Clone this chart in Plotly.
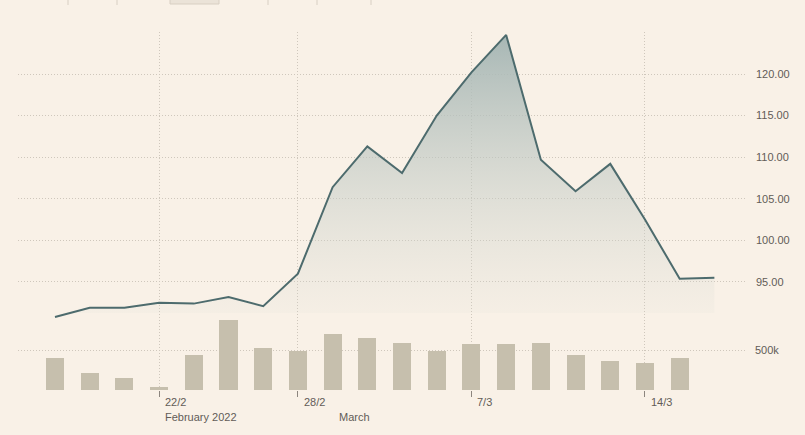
import plotly.graph_objects as go

# ---- data ----
dates = ["17/2", "18/2", "21/2", "22/2", "23/2", "24/2", "25/2", "28/2",
         "1/3", "2/3", "3/3", "4/3", "7/3", "8/3", "9/3", "10/3", "11/3",
         "14/3", "15/3", "16/3"]
price = [90.8, 91.9, 91.9, 92.5, 92.4, 93.2, 92.1, 96.0,
         106.4, 111.3, 108.1, 115.0, 120.2, 124.7, 109.7, 105.9, 109.2,
         102.5, 95.4, 95.5]
volume = [400000, 212000, 150000, 37000, 437000, 875000, 525000, 487000,
          700000, 650000, 587000, 487000, 575000, 575000, 587000, 437000, 362000,
          337000, 400000, None]
tick_dates = ["22/2", "28/2", "7/3", "14/3"]
month_labels = [("22/2", "February 2022"), ("1/3", "March")]
price_ticks = [95, 100, 105, 110, 115, 120]
vol_ticks = [500000]
vol_ticktext = ["500k"]

BG = "#f9f1e7"
TXT = "#625c57"
GRID = "#cfc7bc"
LINE = "#4d6b6d"
BAR = "#c6bfad"
DOT = "1px,2px"

W, H = 805, 435
def fy(pix):
    return 1 - pix / H
def fx(pix):
    return pix / W

idx = {d: i for i, d in enumerate(dates)}
xr = [-1.066, 19.94]
pr = [90.43, 125.05]

fig = go.Figure()

fig.add_trace(go.Bar(
    x=list(range(len(dates))), y=volume, marker=dict(color=BAR, line=dict(width=0)),
    width=0.52, xaxis="x2", yaxis="y2", hoverinfo="skip", showlegend=False,
))

fig.add_trace(go.Scatter(
    x=list(range(len(dates))), y=price, mode="lines",
    line=dict(color=LINE, width=2),
    fill="tozeroy",
    fillgradient=dict(type="vertical", start=pr[0], stop=pr[1],
                      colorscale=[[0, "rgba(215,218,210,0)"],
                                  [0.024, "rgba(215,218,210,0)"],
                                  [0.026, "rgba(215,218,210,0.12)"],
                                  [1, "rgba(166,182,180,1)"]]),
    xaxis="x", yaxis="y", hoverinfo="skip", showlegend=False,
))

tickpos = [idx[d] for d in tick_dates]
fnt = dict(family="Liberation Sans, Arial, sans-serif", size=11, color=TXT)

fig.update_layout(
    width=W, height=H, margin=dict(l=0, r=0, t=0, b=0),
    paper_bgcolor=BG, plot_bgcolor="rgba(0,0,0,0)", font=fnt,
    xaxis=dict(domain=[fx(18), fx(747)], range=xr, anchor="y",
               tickvals=tickpos, showticklabels=False, ticks="",
               showgrid=True, gridcolor=GRID, griddash=DOT, gridwidth=1,
               zeroline=False, showline=False, fixedrange=True),
    yaxis=dict(domain=[fy(320), fy(32)], range=pr, anchor="x",
               side="right", tickvals=price_ticks, tickformat=".2f",
               showgrid=True, gridcolor=GRID, griddash=DOT, gridwidth=1,
               zeroline=False, showline=False, ticks="", tickfont=fnt,
               ticklabelstandoff=8),
    xaxis2=dict(domain=[fx(18), fx(747)], range=xr, anchor="y2",
                tickvals=tickpos, showticklabels=False,
                ticks="outside", ticklen=6, tickcolor="#8c857e", tickwidth=1,
                showgrid=True, gridcolor=GRID, griddash=DOT, gridwidth=1,
                zeroline=False, showline=False),
    yaxis2=dict(domain=[fy(390), fy(314)], range=[0, 950000], anchor="x2",
                side="right", tickvals=vol_ticks, ticktext=vol_ticktext,
                showgrid=True, gridcolor=GRID, griddash=DOT, gridwidth=1,
                zeroline=False, showline=False, ticks="", tickfont=fnt,
                ticklabelstandoff=7),
    bargap=0,
)

anns = []
for d in tick_dates:
    anns.append(dict(x=idx[d], y=fy(402), xref="x2", yref="paper", text=d,
                     showarrow=False, xanchor="left", yanchor="middle",
                     xshift=4, font=fnt))
for d, lab in month_labels:
    anns.append(dict(x=idx[d], y=fy(417), xref="x2", yref="paper", text=lab,
                     showarrow=False, xanchor="left", yanchor="middle",
                     xshift=4, font=fnt))
fig.update_layout(annotations=anns)

# cut-off selector tabs at the very top
shapes = [dict(type="rect", xref="paper", yref="paper", x0=fx(170), x1=fx(219),
               y0=fy(4), y1=fy(-10), fillcolor="#ebe3d8", line=dict(color="#d8cfc3", width=1))]
for px in [68, 117, 268, 317, 371]:
    shapes.append(dict(type="line", xref="paper", yref="paper", x0=fx(px), x1=fx(px),
                       y0=fy(5), y1=fy(-10), line=dict(color="#d8cfc3", width=1)))
fig.update_layout(shapes=shapes)

fig.write_html("out.html", config={"displayModeBar": False},
               post_script="document.body.style.margin='0';document.body.style.background='#f9f1e7';")
